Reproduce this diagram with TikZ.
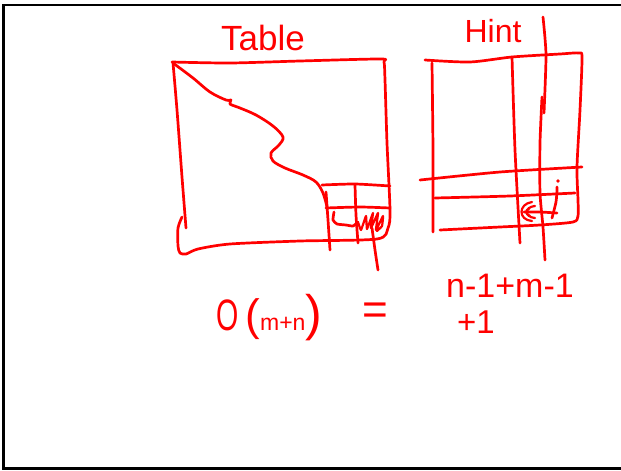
\documentclass[tikz,border=0pt]{standalone}
\usepackage{fontspec}
\setmainfont{Liberation Sans}
\begin{document}
\begin{tikzpicture}[x=1pt,y=-1pt,
  ink/.style={draw=red, line width=2.7pt, line cap=round, line join=round},
  inktext/.style={text=red, inner sep=0pt},
  frame/.style={draw=black, line width=2.6pt}]
\useasboundingbox (0,0) rectangle (621,471);
\fill[white] (0,0) rectangle (621,471);

% board frame
\draw[frame] (625,5) -- (3.5,5) -- (3.5,468.5) -- (625,468.5);

% ---------- Table ----------
\node[inktext, font=\fontsize{35}{35}\selectfont] (tabletitle) at (263,38) {Table};

% top and right edges with the rounded lower corner and bottom edge
\draw[ink] plot[smooth, tension=0.45] coordinates {
  (172,62) (230,63) (300,61) (380,59) (384,62) (385,80) (387,143) (390,210)
  (388,228) (377,239) (300,241) (230,244) (198,249) (186,254) (180,253) (178,246)
  (178,228) (182,217)};
% left edge
\draw[ink] plot[smooth, tension=0.5] coordinates {
  (173,63) (177,110) (182,177) (186,228)};
% staircase boundary
\draw[ink] plot[smooth, tension=0.55] coordinates {
  (173,63) (193,78) (210,92) (226,100) (231,100) (230,104) (240,108) (256,115)
  (273,126) (283,137) (279,145) (271,153) (273,161) (285,168) (303,175) (316,182)
  (323,193) (327,207)};
% small grid in the lower right corner
\draw[ink] plot[smooth, tension=0.4] coordinates {(322,185) (355,184) (390,186)};
\draw[ink] plot[smooth, tension=0.4] coordinates {(326,208) (360,207) (390,208)};
\draw[ink] plot[smooth, tension=0.4] coordinates {(326,192) (328,220) (330,250)};
\draw[ink] plot[smooth, tension=0.4] coordinates {(355,185) (356,215) (358,243)};
\draw[ink] plot[smooth, tension=0.4] coordinates {(372,228) (375,250) (378,270)};
% scribble inside the corner cell
\draw[ink] plot[smooth, tension=0.3] coordinates {
  (334,212) (333,220) (337,224) (346,225) (353,226) (358,222)};
\draw[ink, line width=2.2pt] plot[smooth, tension=0.2] coordinates {
  (358,222) (361,230) (366,216) (367,229) (373,213) (371,228) (378,213)
  (376,230) (383,216) (382,226) (377,231)};

% ---------- Hint ----------
\node[inktext, font=\fontsize{32}{32}\selectfont] (hinttitle) at (493,31) {Hint};

% outer box
\draw[ink] plot[smooth, tension=0.45] coordinates {
  (425,60) (470,62) (512,57) (560,54) (579,53) (582,58) (580,110) (577,167)
  (578,200) (578,216) (573,222) (540,225) (500,227) (460,229) (440,230)};
\draw[ink] plot[smooth, tension=0.4] coordinates {(432,63) (433,150) (433,232)};
% inner lines
\draw[ink] plot[smooth, tension=0.4] coordinates {(512,57) (515,150) (520,243)};
\draw[ink] plot[smooth, tension=0.4] coordinates {(420,180) (500,172) (582,167)};
\draw[ink] plot[smooth, tension=0.4] coordinates {(435,198) (510,196) (575,193)};
% long vertical strokes
\draw[ink] plot[smooth, tension=0.4] coordinates {(543,17) (546,55) (544,113)};
\draw[ink] plot[smooth, tension=0.4] coordinates {(542,97) (540,143) (540,193) (543,227) (545,260)};
% leftward arrow with hand-drawn heads
\draw[ink] plot[smooth, tension=0.3] coordinates {(557,213) (540,212) (524,212)};
\draw[ink, line width=2.2pt] (532,202) .. controls (518,204) and (518,220) .. (532,221);
\draw[ink, line width=2.2pt] (535,206) .. controls (524,207) and (524,217) .. (535,218);
\draw[ink, line width=2.2pt] (529,209) .. controls (525,210) and (525,214) .. (530,216);
\draw[ink] plot[smooth, tension=0.4] coordinates {(552,218) (556,202) (557,190) (557,187)};
\fill[red] (558,181) circle (1.8pt);

% ---------- complexity ----------
\node[inktext, anchor=base west] (bigO) at (216,330)
  {\fontsize{44}{44}\selectfont\scalebox{0.65}[1]{O}\hspace{7pt}(\fontsize{23}{23}\selectfont m+n\fontsize{50}{50}\selectfont )};
\node[inktext, font=\fontsize{44}{44}\selectfont] (equals) at (375,314) {=};
\node[inktext, font=\fontsize{34}{34}\selectfont, anchor=base west] (sumtop) at (446,297) {n-1+m-1};
\node[inktext, font=\fontsize{33}{33}\selectfont, anchor=base west] (sumbottom) at (457,333) {+1};
\end{tikzpicture}
\end{document}
